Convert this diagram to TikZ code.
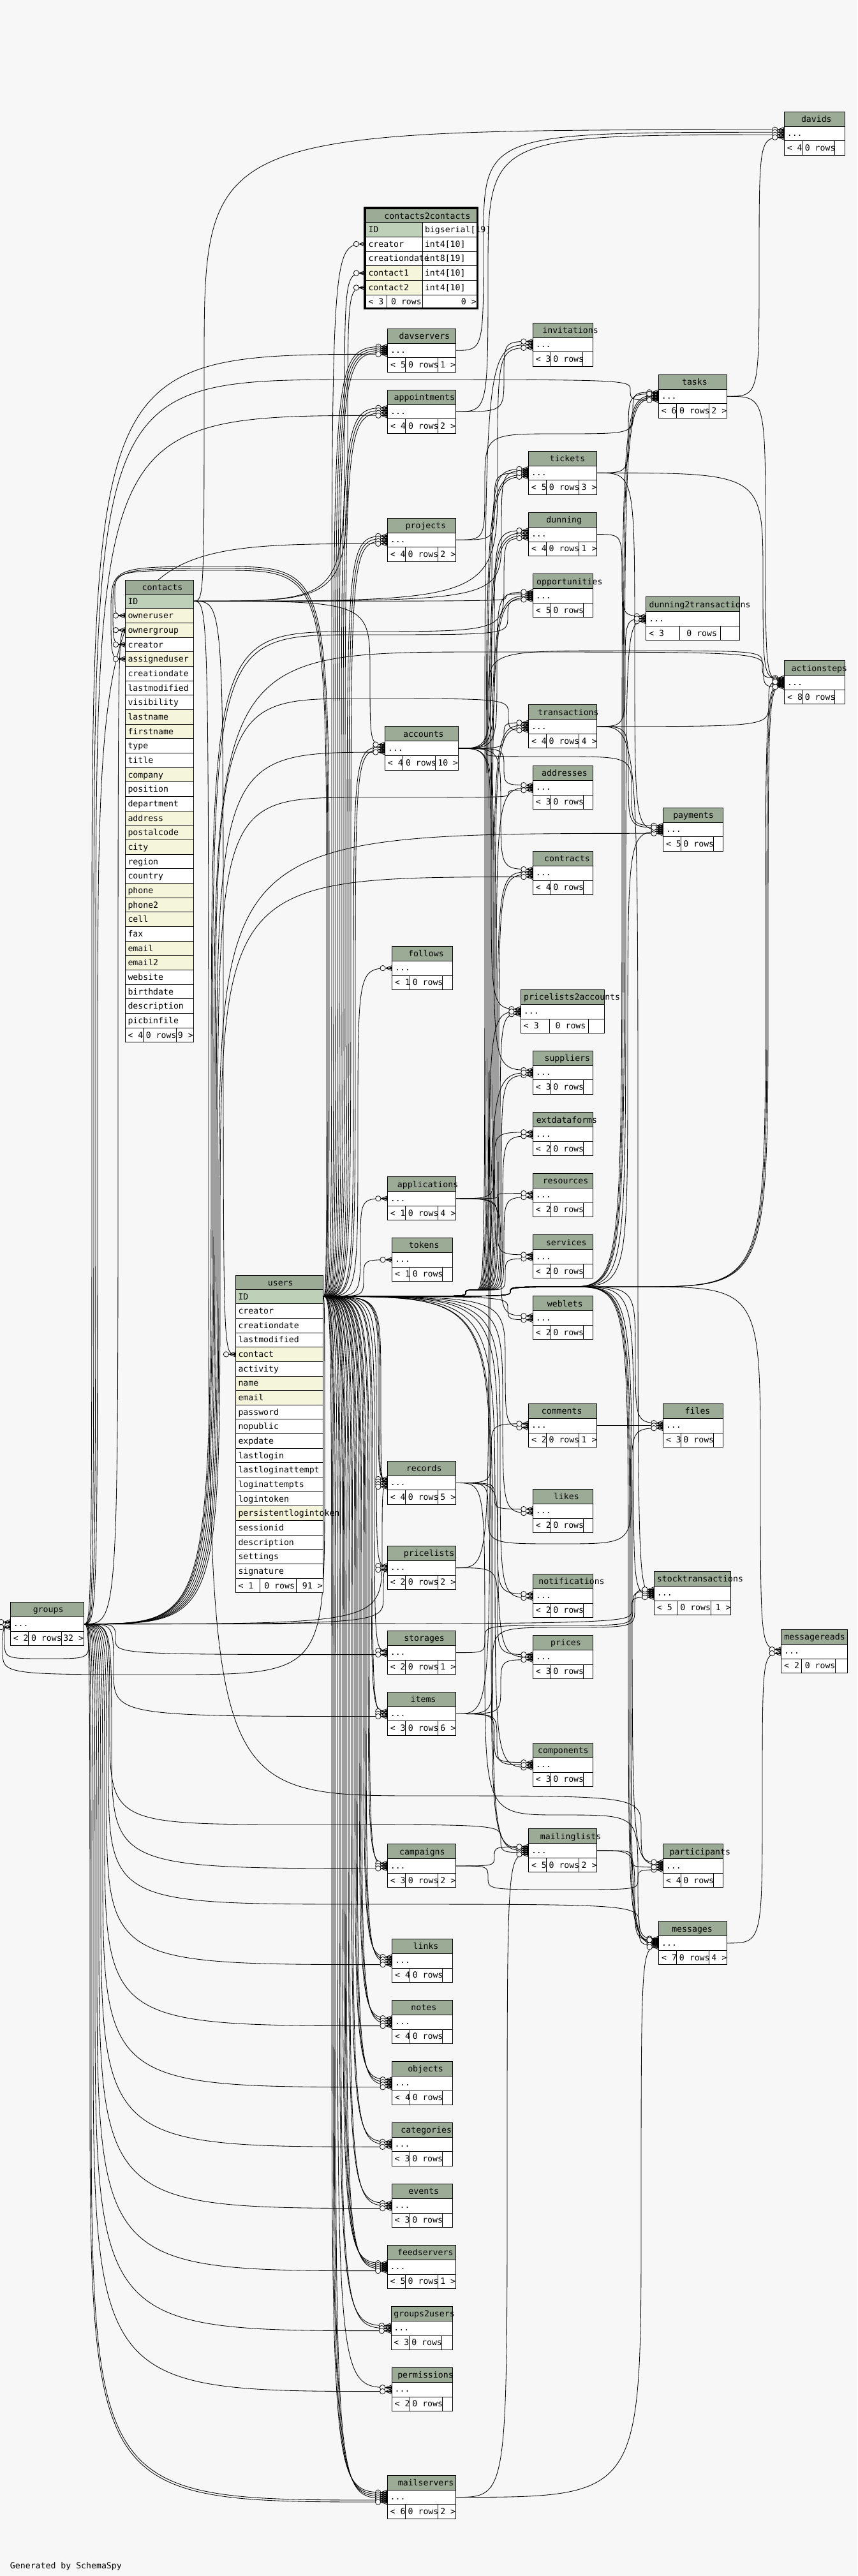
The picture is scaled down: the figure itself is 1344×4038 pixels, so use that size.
\documentclass[tikz,border=0pt]{standalone}
\usepackage{fontspec}
\newfontfamily\monof{DejaVu Sans Mono}
\usetikzlibrary{calc}
\pgfdeclarelayer{bg}
\pgfdeclarelayer{edges}
\pgfsetlayers{bg,edges,main}
\definecolor{bgc}{HTML}{F7F7F7}
\definecolor{hdc}{HTML}{9BAB96}
\definecolor{pkc}{HTML}{BED1B8}
\definecolor{ixc}{HTML}{F5F5DC}
\makeatletter
\def\hvset#1#2{\expandafter\def\csname hv@#1\endcsname{#2}}
\hvset a{556}\hvset b{556}\hvset c{500}\hvset d{556}\hvset e{556}\hvset f{278}
\hvset g{556}\hvset h{556}\hvset i{222}\hvset j{222}\hvset k{500}\hvset l{222}
\hvset m{833}\hvset n{556}\hvset o{556}\hvset p{556}\hvset q{556}\hvset r{333}
\hvset s{500}\hvset t{278}\hvset u{556}\hvset v{500}\hvset w{722}\hvset x{500}
\hvset y{500}\hvset z{500}
\hvset 0{556}\hvset 1{556}\hvset 2{556}\hvset 3{556}\hvset 4{556}\hvset 5{556}
\hvset 6{556}\hvset 7{556}\hvset 8{556}\hvset 9{556}\hvset <{584}\hvset >{584}
\newcommand\titlew[1]{\dimen@=0pt\@tfor\hc:=#1\do{\advance\dimen@ \csname hv@\hc\endcsname pt\relax}\edef\hwn{\strip@pt\dimen@}}
\makeatother
\newcommand\mfont{\monof\fontsize{13.2}{15}\selectfont}
\tikzset{
  rel/.style={draw=black,line width=0.85pt},
  tb/.style={draw=black,line width=0.8pt},
  txt/.style={font=\mfont,inner sep=0pt,outer sep=0pt,text=black},
  cellbox/.style={draw=black,line width=0.8pt,fill=#1,inner sep=0pt,outer sep=0pt,anchor=north west},
}
\newcommand\ctext[4]{\titlew{#4}\node[txt,anchor=base west] (#1) at ({#2-0.0072*\hwn},#3) {#4};}
\newcommand\rtext[4]{\titlew{#4}\node[txt,anchor=base west] (#1) at ({#2-0.0144*(\hwn+278)},#3) {#4};}
% table: name, x, y, w, title, c1, c2, f1, f3
\newcommand\tbl[9]{%
 \fill[hdc] (#2,#3) rectangle ++(#4,23);
 \node[cellbox=white,minimum width=#4,minimum height=22.6] (#1) at (#2,#3+23) {};
 \node[cellbox=white,minimum width=#4,minimum height=22.6] (#1-ft) at (#2,#3+45.6) {};
 \draw[tb] (#2,#3) rectangle ++(#4,68.2);
 \draw[tb] (#2+#6,#3+45.6) -- ++(0,22.6) (#2+#6+#7,#3+45.6) -- ++(0,22.6);
 \ctext{#1-h}{#2+#4/2}{#3+16.5}{#5}%
 \node[txt,anchor=base west] (#1-d) at (#2+4.5,#3+38.5) {...};
 \node[txt,anchor=base west] (#1-f1) at (#2+4.5,#3+61.5) {#8};
 \node[txt,anchor=base west] (#1-f2) at (#2+#6+#7/2-21.2,#3+61.5) {0 rows};
 \rtext{#1-f3}{#2+#4-3.6}{#3+61.5}{#9}%
}
\newcommand\crowend[2]{%
 \coordinate (ce) at ($(#1.west)+(0,#2)$);
 \draw[rel] ($(ce)+(-10,0)$) -- ($(ce)+(0,-4)$) ($(ce)+(-10,0)$) -- ($(ce)+(0,4)$) ($(ce)+(-10,0)$) -- (ce);
 \fill ($(ce)+(-6,0)$) -- ($(ce)+(0,-2.5)$) -- ($(ce)+(0,2.5)$) -- cycle;
 \filldraw[fill=bgc,draw=black,line width=0.75pt] ($(ce)+(-14.5,0)$) circle (4.2pt);
}
% spline through a vertical channel at x = #3
\newcommand\fkA[4]{%
 \begin{pgfonlayer}{edges}
 \draw[rel] let \p1=(#1.east), \p2=($(#2.west)+(0,#4)$), \p3=(#3,0) in
  (\p1) .. controls (\x3,\y1) .. (\x3,{0.5*(\y1+(\y2))}) .. controls (\x3,\y2) .. (\p2);
 \end{pgfonlayer}
 \crowend{#2}{#4}}
\let\fkB\fkA
% spline through channel x=#3, level y=#4, channel x=#5
\newcommand\fkC[6]{%
 \begin{pgfonlayer}{edges}
 \draw[rel] let \p1=(#1.east), \p2=($(#2.west)+(0,#6)$), \p3=(#3,#4), \p4=(#5,0) in
  (\p1) .. controls (\x3,\y1) .. (\x3,{0.5*(\y1+(\y3))}) .. controls (\x3,\y3) ..
  ({0.5*(\x3+(\x4))},\y3) .. controls (\x4,\y3) .. (\x4,{0.5*(\y3+(\y2))}) .. controls (\x4,\y2) .. (\p2);
 \end{pgfonlayer}
 \crowend{#2}{#6}}

\begin{document}
\begin{tikzpicture}[x=1pt,y=-1pt]
\begin{pgfonlayer}{bg}
\fill[bgc] (0,0) rectangle (1344,4038);
\end{pgfonlayer}
\useasboundingbox (0,0) rectangle (1344,4038);

% ---------------- contacts2contacts
\fill[hdc] (573,327) rectangle (747,348.3);
\draw[tb] (573,327) rectangle (747,348.3);
\ctext{c2c-h}{660}{343}{contacts2contacts}
\foreach \cn/\ct/\ck [count=\ci from 0] in {ID/{bigserial[19]}/pkc,creator/{int4[10]}/white,creationdate/{int8[19]}/white,contact1/{int4[10]}/ixc,contact2/{int4[10]}/ixc}{
 \node[cellbox=\ck,minimum width=89,minimum height=22.8] (c2c-\cn) at (573,{348.3+\ci*22.8}) {};
 \node[cellbox=white,minimum width=85,minimum height=22.8] (c2c-\cn-2) at (662,{348.3+\ci*22.8}) {};
}
\foreach \cn/\ct [count=\ci from 0] in {ID/{bigserial[19]},creator/{int4[10]},creationdate/{int8[19]},contact1/{int4[10]},contact2/{int4[10]}}{
 \node[txt,anchor=base west] (c2c-\cn-t) at (577.5,{348.3+\ci*22.8+16}) {\cn};
 \node[txt,anchor=base west] (c2c-\cn-u) at (666,{348.3+\ci*22.8+16}) {\ct};
}
\node[cellbox=white,minimum width=174,minimum height=19.7] (c2c-ft) at (573,462.3) {};
\draw[tb] (606.7,462.3) -- (606.7,482) (662,462.3) -- (662,482);
\node[txt,anchor=base west] (c2c-f1) at (577.5,477.5) {< 3};
\node[txt,anchor=base west] (c2c-f2) at (613.1,477.5) {0 rows};
\rtext{c2c-f3}{743.4}{477.5}{0 >}
\draw[line width=3pt] (571.8,325.3) rectangle (748.2,483.4);

% ---------------- contacts
\fill[hdc] (196,909) rectangle (303,931);
\draw[tb] (196,909) rectangle (303,931);
\ctext{contacts-h}{249.5}{925}{contacts}
\foreach \cn/\ck [count=\ci from 0] in {ID/pkc,owneruser/ixc,ownergroup/ixc,creator/white,assigneduser/ixc,creationdate/white,lastmodified/white,visibility/white,lastname/ixc,firstname/ixc,type/white,title/white,company/ixc,position/white,department/white,address/ixc,postalcode/ixc,city/ixc,region/white,country/white,phone/ixc,phone2/ixc,cell/ixc,fax/white,email/ixc,email2/ixc,website/white,birthdate/white,description/white,picbinfile/white}{
 \node[cellbox=\ck,minimum width=107,minimum height=22.667] (contacts-\cn) at (196,{931+\ci*22.667}) {};
 \node[txt,anchor=base west] (contacts-\cn-t) at (200.5,{931+\ci*22.667+16}) {\cn};
}
\node[cellbox=white,minimum width=107,minimum height=22.6] (contacts-ft) at (196,1611) {};
\draw[tb] (224,1611) -- (224,1633.6) (276,1611) -- (276,1633.6);
\node[txt,anchor=base west] (contacts-f1) at (200.5,1627) {< 4};
\node[txt,anchor=base west] (contacts-f2) at (228.8,1627) {0 rows};
\rtext{contacts-f3}{299.4}{1627}{9 >}

% ---------------- users
\fill[hdc] (369,1999) rectangle (506,2021);
\draw[tb] (369,1999) rectangle (506,2021);
\ctext{users-h}{437.5}{2015}{users}
\foreach \cn/\ck [count=\ci from 0] in {ID/pkc,creator/white,creationdate/white,lastmodified/white,contact/ixc,activity/white,name/ixc,email/ixc,password/white,nopublic/white,expdate/white,lastlogin/white,lastloginattempt/white,loginattempts/white,logintoken/white,persistentlogintoken/ixc,sessionid/white,description/white,settings/white,signature/white}{
 \node[cellbox=\ck,minimum width=137,minimum height=22.65] (users-\cn) at (369,{2021+\ci*22.65}) {};
 \node[txt,anchor=base west] (users-\cn-t) at (373.5,{2021+\ci*22.65+16}) {\cn};
}
\node[cellbox=white,minimum width=137,minimum height=22.2] (users-ft) at (369,2474) {};
\draw[tb] (407,2474) -- (407,2496.2) (464,2474) -- (464,2496.2);
\node[txt,anchor=base west] (users-f1) at (373.5,2490) {< 1};
\node[txt,anchor=base west] (users-f2) at (414.3,2490) {0 rows};
\rtext{users-f3}{502.4}{2490}{91 >}

% ---------------- simple tables
\tbl{davids}{1229.3}{175}{95}{davids}{28}{51.4}{< 4}{}
\tbl{davservers}{607.6}{515}{106.6}{davservers}{28}{51.2}{< 5}{1 >}
\tbl{appointments}{607.6}{611}{106.6}{appointments}{28}{51.2}{< 4}{2 >}
\tbl{invitations}{835.3}{506}{94.2}{invitations}{28.3}{50.1}{< 3}{}
\tbl{tasks}{1032.3}{587}{107.2}{tasks}{28.4}{51}{< 6}{2 >}
\tbl{tickets}{828.4}{707}{107.2}{tickets}{28.3}{50.7}{< 5}{3 >}
\tbl{projects}{607.3}{812}{107.2}{projects}{28}{51}{< 4}{2 >}
\tbl{dunning}{828.5}{803.3}{107.2}{dunning}{27.8}{51}{< 4}{1 >}
\tbl{opportunities}{835.4}{899.6}{94}{opportunities}{28}{50.5}{< 5}{}
\tbl{dunning2transactions}{1012.8}{935.5}{146.7}{dunning2transactions}{52.6}{64.3}{< 3}{}
\tbl{actionsteps}{1229.6}{1035.5}{95}{actionsteps}{27.8}{51.2}{< 8}{}
\tbl{transactions}{828.5}{1104.5}{107.2}{transactions}{27.8}{51}{< 4}{4 >}
\tbl{accounts}{603.4}{1138.8}{115}{accounts}{28.3}{51.1}{< 4}{10 >}
\tbl{addresses}{835.4}{1200.4}{94}{addresses}{28}{50.5}{< 3}{}
\tbl{payments}{1039.5}{1266}{94}{payments}{27.8}{50.7}{< 5}{}
\tbl{contracts}{835.4}{1334.3}{94}{contracts}{28}{50.5}{< 4}{}
\tbl{follows}{614.6}{1483.3}{95}{follows}{27.8}{51.1}{< 1}{}
\tbl{pricelists2accounts}{816.4}{1551.4}{131.1}{pricelists2accounts}{45.3}{60.4}{< 3}{}
\tbl{suppliers}{835.4}{1647.2}{94}{suppliers}{28}{50.5}{< 3}{}
\tbl{extdataforms}{835.4}{1743.5}{94}{extdataforms}{28}{50.5}{< 2}{}
\tbl{applications}{607.3}{1844.5}{107.2}{applications}{28.3}{51}{< 1}{4 >}
\tbl{resources}{835.4}{1839.3}{94}{resources}{28}{50.5}{< 2}{}
\tbl{tokens}{614.6}{1940.4}{95}{tokens}{27.8}{51.1}{< 1}{}
\tbl{services}{835.4}{1935.6}{94}{services}{28}{50.5}{< 2}{}
\tbl{weblets}{835.4}{2031.5}{94}{weblets}{28}{50.5}{< 2}{}
\tbl{comments}{828.5}{2200.4}{107.2}{comments}{27.8}{51}{< 2}{1 >}
\tbl{files}{1039.5}{2200.4}{94}{files}{27.8}{50.7}{< 3}{}
\tbl{records}{607.3}{2290.2}{107.2}{records}{28.3}{51}{< 4}{5 >}
\tbl{likes}{835.4}{2334.3}{94}{likes}{28}{50.5}{< 2}{}
\tbl{pricelists}{607.3}{2423.3}{107.2}{pricelists}{28.3}{51}{< 2}{2 >}
\tbl{notifications}{835.4}{2467.3}{94}{notifications}{28}{50.5}{< 2}{}
\tbl{stocktransactions}{1025.4}{2463.3}{120.4}{stocktransactions}{35.6}{53.1}{< 5}{1 >}
\tbl{messagereads}{1224.7}{2554.3}{103.8}{messagereads}{31.7}{53.1}{< 2}{}
\tbl{prices}{835.4}{2563.3}{94}{prices}{28}{50.5}{< 3}{}
\tbl{storages}{607.3}{2556.3}{107.2}{storages}{28.3}{51}{< 2}{1 >}
\tbl{items}{607.3}{2652.2}{107.2}{items}{28.3}{51}{< 3}{6 >}
\tbl{components}{835.4}{2732.4}{94}{components}{28}{50.5}{< 3}{}
\tbl{mailinglists}{828.5}{2866.5}{107.2}{mailinglists}{27.8}{51}{< 5}{2 >}
\tbl{campaigns}{607.3}{2890.6}{107.2}{campaigns}{28.3}{51}{< 3}{2 >}
\tbl{participants}{1039.5}{2890.6}{94}{participants}{27.8}{50.7}{< 4}{}
\tbl{messages}{1032.7}{3011.6}{106.8}{messages}{27.8}{51.2}{< 7}{4 >}
\tbl{links}{614.6}{3039.3}{95}{links}{27.8}{51.1}{< 4}{}
\tbl{notes}{614.6}{3135.3}{95}{notes}{27.8}{51.1}{< 4}{}
\tbl{objects}{614.6}{3231.4}{95}{objects}{27.8}{51.1}{< 4}{}
\tbl{categories}{614.2}{3327}{95}{categories}{27.8}{51.1}{< 3}{}
\tbl{events}{614.2}{3423.3}{95}{events}{27.8}{51.1}{< 3}{}
\tbl{feedservers}{607.1}{3519.3}{107.2}{feedservers}{28.3}{51}{< 5}{1 >}
\tbl{groups2users}{612.9}{3615.3}{96.3}{groups2users}{28}{51.1}{< 3}{}
\tbl{permissions}{614.2}{3711.3}{95}{permissions}{27.8}{51.1}{< 2}{}
\tbl{mailservers}{607.1}{3880.2}{107.2}{mailservers}{28.3}{51}{< 6}{2 >}
\tbl{groups}{16.3}{2511.3}{115}{groups}{28}{52}{< 2}{32 >}

\node[txt,anchor=base west] (gen) at (16,4026) {Generated by SchemaSpy};

% ================= relationships
% users -> middle column (up)
\fkA{users-ID}{c2c-creator}{520}{0}
\fkA{users-ID}{davservers}{523}{-6}
\fkA{users-ID}{davservers}{526}{-3}
\fkA{users-ID}{davservers}{529}{0}
\fkA{users-ID}{davservers}{532}{3}
\fkA{users-ID}{appointments}{535}{-6}
\fkA{users-ID}{appointments}{538}{-2}
\fkA{users-ID}{appointments}{541}{2}
\fkA{users-ID}{projects}{544}{-6}
\fkA{users-ID}{projects}{547}{-2}
\fkA{users-ID}{projects}{550}{2}
\fkA{users-ID}{accounts}{554}{-2}
\fkA{users-ID}{accounts}{557}{2}
\fkA{users-ID}{follows}{561}{0}
\fkA{users-ID}{applications}{565}{0}
\fkA{users-ID}{tokens}{570}{0}
% users -> middle column (down)
\fkA{users-ID}{records}{593}{-6}
\fkA{users-ID}{records}{595}{-2}
\fkA{users-ID}{records}{597}{2}
\fkA{users-ID}{pricelists}{590}{-3}
\fkA{users-ID}{storages}{587}{-3}
\fkA{users-ID}{items}{582}{-4}
\fkA{users-ID}{items}{584}{0}
\fkA{users-ID}{campaigns}{577}{-4}
\fkA{users-ID}{campaigns}{579}{0}
\fkA{users-ID}{links}{570}{-6}
\fkA{users-ID}{links}{572}{-2}
\fkA{users-ID}{links}{574}{2}
\fkA{users-ID}{notes}{563}{-6}
\fkA{users-ID}{notes}{565}{-2}
\fkA{users-ID}{notes}{567}{2}
\fkA{users-ID}{objects}{556}{-6}
\fkA{users-ID}{objects}{558}{-2}
\fkA{users-ID}{objects}{560}{2}
\fkA{users-ID}{categories}{551}{-4}
\fkA{users-ID}{categories}{553}{0}
\fkA{users-ID}{events}{546}{-4}
\fkA{users-ID}{events}{548}{0}
\fkA{users-ID}{feedservers}{537}{-6}
\fkA{users-ID}{feedservers}{539}{-3}
\fkA{users-ID}{feedservers}{541}{0}
\fkA{users-ID}{feedservers}{543}{3}
\fkA{users-ID}{groups2users}{532}{-4}
\fkA{users-ID}{groups2users}{534}{0}
\fkA{users-ID}{permissions}{529}{-3}
\fkA{users-ID}{mailservers}{520}{-7.5}
\fkA{users-ID}{mailservers}{522}{-4.5}
\fkA{users-ID}{mailservers}{524}{-1.5}
\fkA{users-ID}{mailservers}{526}{1.5}
% users -> right column
\fkC{users-ID}{invitations}{730}{2022}{760}{0}
\fkC{users-ID}{tickets}{730}{2022}{762}{3}
\fkC{users-ID}{tickets}{730}{2022}{764}{6}
\fkC{users-ID}{dunning}{730}{2022}{766}{-2}
\fkC{users-ID}{dunning}{730}{2022}{768}{2}
\fkC{users-ID}{opportunities}{730}{2022}{770}{0}
\fkC{users-ID}{opportunities}{730}{2022}{772}{3}
\fkC{users-ID}{transactions}{730}{2022}{774}{-2}
\fkC{users-ID}{transactions}{730}{2022}{776}{2}
\fkC{users-ID}{addresses}{730}{2022}{778}{0}
\fkC{users-ID}{contracts}{730}{2022}{780}{-2}
\fkC{users-ID}{contracts}{730}{2022}{782}{2}
\fkC{users-ID}{pricelists2accounts}{730}{2022}{784}{4}
\fkC{users-ID}{suppliers}{730}{2022}{786}{4}
\fkC{users-ID}{extdataforms}{730}{2022}{788}{3}
\fkC{users-ID}{resources}{730}{2022}{790}{3}
\fkC{users-ID}{services}{730}{2022}{792}{3}
\fkA{users-ID}{weblets}{796}{3}
\fkA{users-ID}{comments}{792}{3}
\fkA{users-ID}{likes}{788}{3}
\fkA{users-ID}{notifications}{784}{3}
\fkA{users-ID}{prices}{780}{0}
\fkA{users-ID}{components}{776}{4}
\fkA{users-ID}{mailinglists}{770}{-3}
\fkA{users-ID}{mailinglists}{772}{0}
% users -> far right
\fkC{users-ID}{tasks}{800}{2017}{975}{-1.5}
\fkC{users-ID}{tasks}{800}{2017}{977}{1}
\fkC{users-ID}{tasks}{800}{2017}{979}{3.5}
\fkC{users-ID}{dunning2transactions}{800}{2017}{981}{4}
\fkC{users-ID}{payments}{800}{2017}{984}{3}
\fkC{users-ID}{messages}{800}{2017}{985}{-3}
\fkC{users-ID}{messages}{800}{2017}{987}{-1}
\fkC{users-ID}{messages}{800}{2017}{989}{1}
\fkC{users-ID}{participants}{800}{2017}{991}{-2}
\fkC{users-ID}{stocktransactions}{800}{2017}{993}{3}
\fkC{users-ID}{files}{800}{2017}{996}{-4}
\fkC{users-ID}{actionsteps}{800}{2017}{1200}{1}
\fkC{users-ID}{actionsteps}{800}{2017}{1202}{3}
\fkC{users-ID}{actionsteps}{800}{2017}{1204}{5}
\fkC{users-ID}{messagereads}{800}{2017}{1192}{-3}
% users -> contacts, groups
\fkC{users-ID}{contacts-owneruser}{512}{894}{180}{0}
\fkC{users-ID}{contacts-creator}{514}{891}{177}{0}
\fkC{users-ID}{contacts-assigneduser}{516}{888}{174}{0}
\fkC{users-ID}{groups}{509}{2625}{4}{5}
% groups
\fkC{groups}{groups}{139}{2600}{7}{-3}
\fkB{groups}{contacts-ownergroup}{185}{0}
\fkB{groups}{davservers}{144}{6}
\fkC{groups}{tasks}{147}{595}{988}{6}
\fkB{groups}{appointments}{150}{6}
\fkB{groups}{projects}{153}{6}
\fkC{groups}{dunning}{331}{990}{790}{6}
\fkC{groups}{opportunities}{333}{995}{796}{6}
\fkC{groups}{actionsteps}{335}{1022}{1197}{7}
\fkC{groups}{transactions}{337}{1095}{797}{6}
\fkB{groups}{accounts}{339}{6}
\fkC{groups}{addresses}{341}{1250}{797}{4}
\fkB{groups}{payments}{343}{6}
\fkB{groups}{contracts}{345}{6}
\fkA{groups}{records}{599}{6}
\fkA{groups}{pricelists}{601}{3}
\fkA{groups}{stocktransactions}{990}{6}
\fkB{groups}{storages}{181}{3}
\fkB{groups}{items}{178}{4}
\fkB{groups}{campaigns}{175}{4}
\fkC{groups}{mailinglists}{172}{2860}{785}{3}
\fkC{groups}{messages}{170}{2985}{1002}{3}
\fkB{groups}{links}{167}{6}
\fkB{groups}{notes}{164}{6}
\fkB{groups}{objects}{161}{6}
\fkB{groups}{categories}{158}{4}
\fkB{groups}{events}{155}{4}
\fkB{groups}{feedservers}{152}{6}
\fkB{groups}{groups2users}{149}{4}
\fkB{groups}{permissions}{146}{3}
\fkB{groups}{mailservers}{143}{4.5}
\fkB{groups}{mailservers}{141}{7.5}
% contacts
\fkA{contacts-ID}{c2c-contact1}{540}{0}
\fkA{contacts-ID}{c2c-contact2}{545}{0}
\fkB{contacts-ID}{davids}{320}{-6}
\fkA{contacts-ID}{invitations}{780}{5}
\fkA{contacts-ID}{users-contact}{350}{0}
\fkA{contacts-ID}{opportunities}{793}{-3}
\fkA{contacts-ID}{accounts}{580}{-6}
\fkC{contacts-ID}{participants}{327}{2815}{1005}{-6}
\fkA{contacts-ID}{tickets}{786}{-3}
% accounts
\fkA{accounts}{tickets}{771}{-6}
\fkA{accounts}{dunning}{775}{-6}
\fkA{accounts}{opportunities}{779}{-6}
\fkA{accounts}{transactions}{790}{-6}
\fkA{accounts}{addresses}{790}{-4}
\fkA{accounts}{contracts}{785}{-6}
\fkA{accounts}{pricelists2accounts}{770}{-4}
\fkA{accounts}{suppliers}{774}{-4}
\fkC{accounts}{payments}{762}{1186}{990}{-6}
\fkC{accounts}{actionsteps}{765}{1020}{1195}{-7}
% others
\fkB{davservers}{davids}{758}{-2}
\fkB{appointments}{davids}{765}{2}
\fkA{tasks}{davids}{1190}{6}
\fkA{appointments}{invitations}{790}{-5}
\fkA{projects}{tickets}{775}{0}
\fkC{projects}{tasks}{760}{680}{992}{-6.5}
\fkA{tickets}{tasks}{985}{-4}
\fkA{tickets}{actionsteps}{1196}{-5}
\fkA{tickets}{payments}{995}{0}
\fkA{tasks}{actionsteps}{1200}{-3}
\fkA{dunning}{dunning2transactions}{975}{-4}
\fkA{transactions}{dunning2transactions}{980}{0}
\fkA{transactions}{actionsteps}{1205}{-1}
\fkA{transactions}{payments}{985}{-3}
\fkA{transactions}{stocktransactions}{1000}{0}
\fkA{comments}{files}{990}{0}
\fkA{records}{comments}{770}{-3}
\fkA{records}{likes}{775}{-3}
\fkC{records}{files}{765}{2420}{990}{4}
\fkA{records}{notifications}{780}{-3}
\fkC{records}{messages}{760}{2845}{1000}{-7}
\fkA{pricelists}{prices}{780}{-4}
\fkA{pricelists}{pricelists2accounts}{766}{0}
\fkC{storages}{stocktransactions}{760}{2548}{992}{-3}
\fkA{items}{prices}{785}{4}
\fkA{items}{components}{775}{-4}
\fkA{items}{components}{779}{0}
\fkC{items}{stocktransactions}{772}{2551}{995}{-6}
\fkA{items}{suppliers}{768}{0}
\fkA{applications}{extdataforms}{775}{-3}
\fkA{applications}{resources}{780}{-3}
\fkA{applications}{services}{780}{-3}
\fkA{applications}{weblets}{785}{-3}
\fkA{campaigns}{mailinglists}{775}{-6}
\fkC{campaigns}{participants}{765}{2962}{1000}{6}
\fkA{mailinglists}{participants}{990}{2}
\fkA{mailinglists}{messages}{995}{-5}
\fkA{mailservers}{mailinglists}{795}{6}
\fkA{mailservers}{messages}{1005}{6}
\fkA{messages}{messagereads}{1195}{3}
\end{tikzpicture}
\end{document}
